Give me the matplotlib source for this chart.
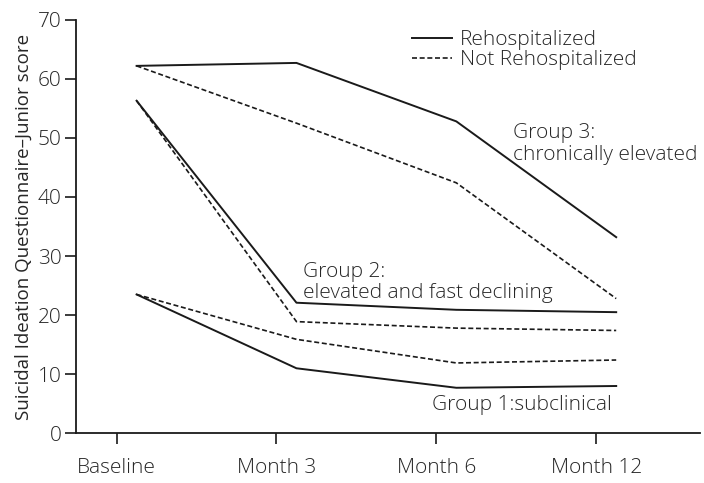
import numpy as np
import matplotlib
matplotlib.use('Agg')
import matplotlib.pyplot as plt

# data
timepoints = ['Baseline', 'Month 3', 'Month 6', 'Month 12']
g3_rehosp = [62.2, 62.7, 52.8, 33.2]
g3_not = [62.2, 52.5, 42.4, 22.8]
g2_rehosp = [56.3, 22.1, 20.9, 20.5]
g2_not = [56.3, 18.9, 17.8, 17.4]
g1_rehosp = [23.5, 11.0, 7.7, 8.0]
g1_not = [23.5, 15.9, 11.9, 12.4]

plt.rcParams['font.family'] = ['Open Sans', 'DejaVu Sans']
plt.rcParams['font.weight'] = 'light'
txt = '#262626'
fs = 15

fig = plt.figure(figsize=(7.04, 4.83), dpi=100)
ax = fig.add_axes([0.1075, 0.103, 0.887, 0.856])

x = np.arange(len(timepoints))
xs = x + 0.125  # points sit a little right of the ticks
solid = dict(color='#1a1a1a', lw=1.4, ls='-')
dashed = dict(color='#1a1a1a', lw=1.2, ls=(0, (3, 1.6)))

ax.plot(xs, g3_rehosp, label='Rehospitalized', **solid)
ax.plot(xs, g3_not, label='Not Rehospitalized', **dashed)
ax.plot(xs, g2_rehosp, **solid)
ax.plot(xs, g2_not, **dashed)
ax.plot(xs, g1_rehosp, **solid)
ax.plot(xs, g1_not, **dashed)

ax.set_xlim(-0.256, 3.65)
ax.set_ylim(0, 70)
ax.set_xticks(x)
ax.set_xticklabels(timepoints)
ax.set_yticks(range(0, 71, 10))

for s in ['top', 'right']:
    ax.spines[s].set_visible(False)
for s in ['left', 'bottom']:
    ax.spines[s].set_linewidth(1.3)
    ax.spines[s].set_color('#1a1a1a')
ax.tick_params(axis='both', direction='out', length=8, width=1.2,
               colors='#1a1a1a', labelcolor=txt, labelsize=15)
ax.tick_params(axis='x', pad=10)
ax.tick_params(axis='y', pad=2)

ax.set_ylabel('Suicidal Ideation Questionnaire\u2013Junior score',
              fontsize=13.5, color=txt, labelpad=4)

ax.text(2.48, 52.5, 'Group 3:\nchronically elevated', fontsize=fs,
        color=txt, va='top', ha='left', linespacing=1.15)
ax.text(1.164, 29.0, 'Group 2:\nelevated and fast declining', fontsize=fs,
        color=txt, va='top', ha='left', linespacing=1.1)
ax.text(3.095, 6.4, 'Group 1:subclinical', fontsize=fs,
        color=txt, va='top', ha='right')

leg = ax.legend(loc='upper left', bbox_to_anchor=(0.525, 0.995), frameon=False,
                fontsize=fs, handlelength=1.95, handletextpad=0.35,
                labelspacing=0.0, borderaxespad=0)
for t in leg.get_texts():
    t.set_color(txt)

fig.savefig('out.png', dpi=100)
